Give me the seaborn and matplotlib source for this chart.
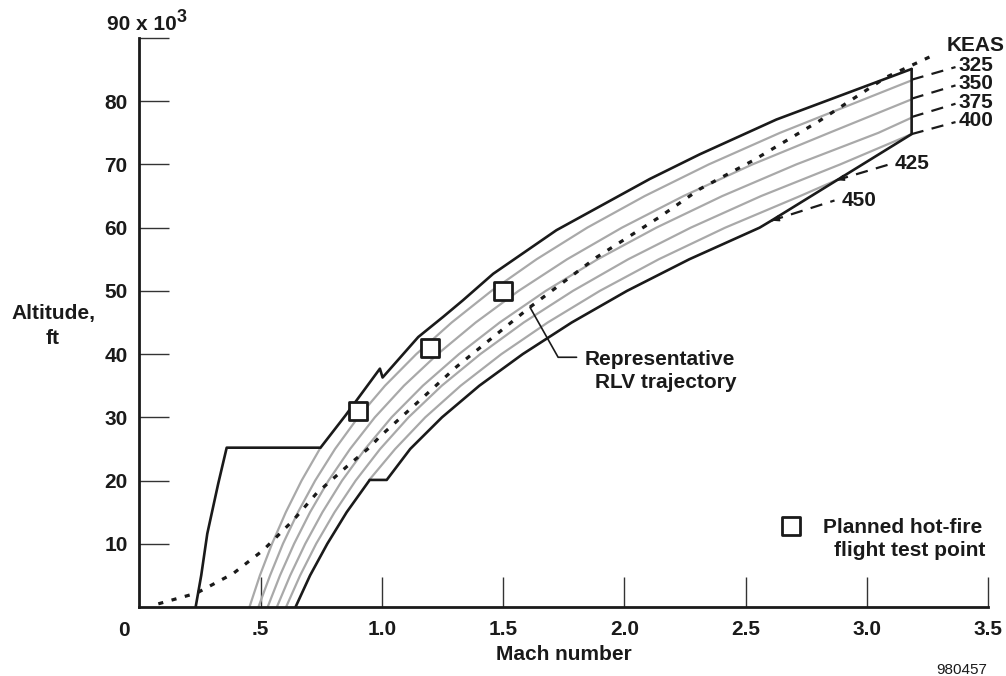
import matplotlib
matplotlib.use("Agg")
import matplotlib.pyplot as plt
import seaborn as sns

# ---------------- data (Mach number, altitude in 1000 ft) ----------------
keas300_mach = [0.454, 0.497, 0.547, 0.604, 0.669, 0.747]
keas300_alt = [0, 5, 10, 15, 20, 25.2]

keas325_mach = [0.491, 0.539, 0.592, 0.654, 0.725, 0.807, 0.902, 1.013, 1.142, 1.288,
                1.452, 1.638, 1.847, 2.084, 2.348, 2.642, 2.969, 3.185]
keas325_alt = [0, 5, 10, 15, 20, 25, 30, 35, 40, 45, 50, 55, 60, 65, 70, 75, 80, 83.3]

keas350_mach = [0.529, 0.580, 0.638, 0.704, 0.780, 0.869, 0.971, 1.091, 1.230, 1.387,
                1.564, 1.764, 1.990, 2.244, 2.528, 2.845, 3.185]
keas350_alt = [0, 5, 10, 15, 20, 25, 30, 35, 40, 45, 50, 55, 60, 65, 70, 75, 80.3]

keas375_mach = [0.567, 0.622, 0.684, 0.755, 0.836, 0.931, 1.040, 1.169, 1.318, 1.486,
                1.676, 1.890, 2.132, 2.404, 2.709, 3.048, 3.185]
keas375_alt = [0, 5, 10, 15, 20, 25, 30, 35, 40, 45, 50, 55, 60, 65, 70, 75, 77.4]

keas400_mach = [0.605, 0.663, 0.729, 0.805, 0.892, 0.993, 1.110, 1.247, 1.406, 1.585,
                1.788, 2.016, 2.274, 2.564, 2.890, 3.185]
keas400_alt = [0, 5, 10, 15, 20, 25, 30, 35, 40, 45, 50, 55, 60, 65, 70, 74.8]

keas425_mach = [0.948, 1.055, 1.179, 1.325, 1.493, 1.684, 1.899, 2.142, 2.416, 2.725, 2.874]
keas425_alt = [20.1, 25, 30, 35, 40, 45, 50, 55, 60, 65, 67.5]

upper_mach = [0.232, 0.255, 0.280, 0.325, 0.360, 0.747, 0.850, 0.992, 1.003, 1.150,
              1.253, 1.334, 1.459, 1.720, 2.105, 2.311, 2.627, 3.185]
upper_alt = [0, 5, 11.6, 19.5, 25.2, 25.2, 30.3, 37.7, 36.3, 42.7,
             45.9, 48.5, 52.7, 59.6, 67.7, 71.6, 77.1, 85.1]

lower_mach = [0.644, 0.704, 0.775, 0.855, 0.950, 1.020, 1.117, 1.248, 1.402, 1.581,
              1.783, 2.011, 2.268, 2.558, 2.606, 3.185, 3.185]
lower_alt = [0, 5, 10, 15, 20.1, 20.1, 25, 30, 35, 40,
             45, 50, 55, 60, 61.1, 74.8, 85.1]

traj_mach = [0.078, 0.236, 0.387, 0.511, 0.634, 0.731, 0.855, 0.951, 0.990, 1.157,
             1.308, 1.610, 1.885, 2.146, 2.311, 2.530, 2.805, 3.080, 3.287]
traj_alt = [0.5, 2.2, 5.3, 9.0, 13.7, 18.0, 22.2, 25.3, 26.9, 32.7,
            38.0, 47.4, 55.3, 61.7, 66.1, 70.6, 76.9, 83.8, 87.5]

test_mach = [0.9, 1.2, 1.5]
test_alt = [31, 41, 50]

keas_labels = ["325", "350", "375", "400", "425", "450"]
keas_ext_start_mach = [3.185, 3.185, 3.185, 3.185, 2.874, 2.606]
keas_ext_start_alt = [83.4, 80.4, 77.5, 74.8, 67.5, 61.1]
keas_ext_end_mach = [3.366, 3.366, 3.366, 3.366, 3.101, 2.867]
keas_ext_end_alt = [85.4, 82.5, 79.6, 76.7, 70.1, 64.3]

xtick_vals = [0.5, 1.0, 1.5, 2.0, 2.5, 3.0, 3.5]
xtick_labels = [".5", "1.0", "1.5", "2.0", "2.5", "3.0", "3.5"]
ytick_vals = [10, 20, 30, 40, 50, 60, 70, 80, 90]
ytick_labels = ["10", "20", "30", "40", "50", "60", "70", "80", ""]

# ---------------- styling ----------------
sns.set_style("white")
plt.rcParams["font.family"] = ["Liberation Sans", "DejaVu Sans"]
plt.rcParams["font.weight"] = "bold"

W, H = 1006, 676
fig = plt.figure(figsize=(W / 100, H / 100), dpi=100)
ax = fig.add_axes([139.4 / W, (H - 607) / H, (988 - 139.4) / W, (607 - 38) / H])

BLACK = "#1a1a1a"
GREY = "#a9a9a9"


def line(xs, ys, **kw):
    sns.lineplot(x=xs, y=ys, sort=False, estimator=None, ax=ax, legend=False, **kw)


# grey constant-KEAS lines
for xs, ys in [(keas300_mach, keas300_alt), (keas325_mach, keas325_alt),
               (keas350_mach, keas350_alt), (keas375_mach, keas375_alt),
               (keas400_mach, keas400_alt), (keas425_mach, keas425_alt)]:
    line(xs, ys, color=GREY, lw=1.6, zorder=2)

# envelope boundaries
line(upper_mach, upper_alt, color=BLACK, lw=1.9, zorder=4)
line(lower_mach, lower_alt, color=BLACK, lw=1.9, zorder=4)

# trajectory
line(traj_mach, traj_alt, color=BLACK, lw=2.3, linestyle=(0, (1.6, 2.7)), zorder=3)

# KEAS extension dashed lines
for i in range(len(keas_labels)):
    line([keas_ext_start_mach[i], keas_ext_end_mach[i]],
         [keas_ext_start_alt[i], keas_ext_end_alt[i]],
         color=BLACK, lw=1.6, linestyle=(0, (5.5, 3.8)), zorder=3)
for i in (4, 5):
    ax.annotate("", xy=(keas_ext_start_mach[i], keas_ext_start_alt[i]),
                xytext=(keas_ext_start_mach[i] + 0.03, keas_ext_start_alt[i] + 0.36),
                arrowprops=dict(arrowstyle="-|>,head_length=0.45,head_width=0.18",
                                color=BLACK, lw=1.0, shrinkA=0, shrinkB=0), zorder=5)

# test points
sns.scatterplot(x=test_mach, y=test_alt, marker="s", s=150, facecolor="white",
                edgecolor=BLACK, linewidth=2.0, ax=ax, zorder=6, legend=False)

# legend marker
sns.scatterplot(x=[2.689], y=[12.8], marker="s", s=150, facecolor="white",
                edgecolor=BLACK, linewidth=2.0, ax=ax, zorder=6, legend=False,
                clip_on=False)

# leader for trajectory label
line([1.611, 1.727, 1.803], [47.4, 39.5, 39.5], color=BLACK, lw=1.2, zorder=5)

# axes
ax.set_xlim(0, 3.5)
ax.set_ylim(0, 90)
ax.set_xticks(xtick_vals)
ax.set_xticklabels(xtick_labels)
ax.set_yticks(ytick_vals)
ax.set_yticklabels(ytick_labels)
ax.set_xlabel("")
ax.set_ylabel("")
for s in ("top", "right"):
    ax.spines[s].set_visible(False)
for s in ("left", "bottom"):
    ax.spines[s].set_linewidth(2.0)
    ax.spines[s].set_color(BLACK)
ax.tick_params(axis="both", which="major", bottom=True, left=True, top=False, right=False,
               direction="in", length=21.6, width=1.0, color="#333333",
               labelsize=15, labelcolor=BLACK)
ax.tick_params(axis="x", pad=9.5)
ax.tick_params(axis="y", pad=8.5)


def ftext(x, y, s, **kw):
    kw.setdefault("fontsize", 15)
    kw.setdefault("color", BLACK)
    fig.text(x / W, 1 - y / H, s, **kw)


ftext(124, 635.5, "0", ha="center", va="baseline")
ftext(563.7, 660.5, "Mach number", ha="center", va="baseline")
ftext(53, 319, "Altitude,", ha="center", va="baseline")
ftext(53, 344, "ft", ha="center", va="baseline")
ftext(106.7, 30, "90 x 10", ha="left", va="baseline")
ftext(177, 21.7, "3", ha="left", va="baseline", fontsize=13)
ftext(987, 674, "980457", ha="right", va="baseline", fontsize=11, fontweight="normal")

# KEAS labels
ftext(946.7, 50.8, "KEAS", ha="left", va="baseline")
ftext(958.3, 70.8, keas_labels[0], ha="left", va="baseline")
ftext(958.3, 89.2, keas_labels[1], ha="left", va="baseline")
ftext(958.3, 107.5, keas_labels[2], ha="left", va="baseline")
ftext(958.3, 125.8, keas_labels[3], ha="left", va="baseline")
ftext(895, 169.2, keas_labels[4], ha="left", va="baseline")
ftext(841.7, 205.8, keas_labels[5], ha="left", va="baseline")

ftext(735, 365, "Representative", ha="right", va="baseline")
ftext(736.7, 388.5, "RLV trajectory", ha="right", va="baseline")
ftext(982, 532.7, "Planned hot-fire", ha="right", va="baseline")
ftext(985, 556, "flight test point", ha="right", va="baseline")

fig.savefig("out.png", dpi=100)
